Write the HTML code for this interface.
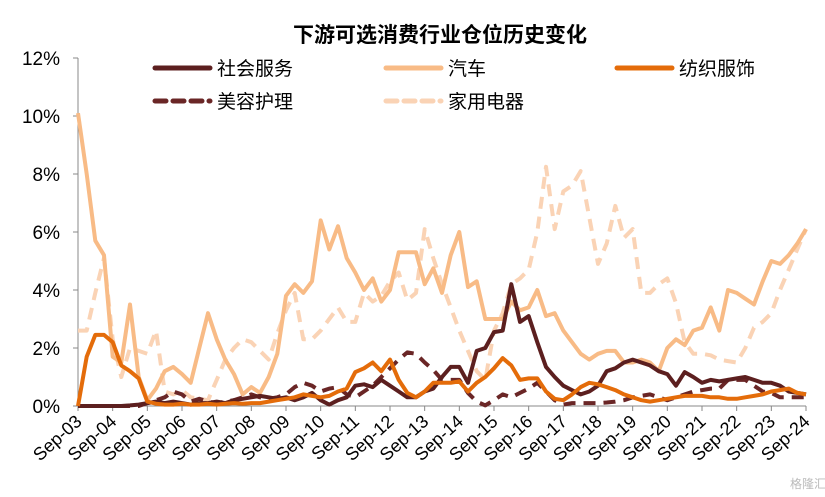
<!DOCTYPE html>
<html><head><meta charset="utf-8"><style>
body{margin:0;background:#fff;}
svg{display:block;font-family:"Liberation Sans","Noto Sans CJK SC",sans-serif;}
</style></head><body>
<svg width="825" height="497" viewBox="0 0 825 497">
<text x="440" y="42" text-anchor="middle" font-size="21" font-weight="bold" fill="#000">下游可选消费行业仓位历史变化</text>
<g id="legend"></g>
<g id="axes"></g>
<g id="series"></g>
<text x="790" y="488" font-size="12" fill="#bbb">格隆汇</text>
</svg>
<script>
const yTicks=[0,2,4,6,8,10,12];
const xLabels=["Sep-03","Sep-04","Sep-05","Sep-06","Sep-07","Sep-08","Sep-09","Sep-10","Sep-11","Sep-12","Sep-13","Sep-14","Sep-15","Sep-16","Sep-17","Sep-18","Sep-19","Sep-20","Sep-21","Sep-22","Sep-23","Sep-24"];
const auto=[10.1,8.0,5.7,5.2,1.7,1.5,3.5,1.0,0.2,0.6,1.2,1.35,1.1,0.8,2.0,3.2,2.3,1.6,1.1,0.4,0.65,0.45,1.0,1.8,3.8,4.2,3.9,4.3,6.4,5.4,6.2,5.1,4.6,4.0,4.4,3.6,4.0,5.3,5.3,5.3,4.2,4.75,3.9,5.2,6.0,4.1,4.3,3.0,3.0,3.0,3.6,3.3,3.4,4.0,3.1,3.2,2.6,2.2,1.8,1.6,1.8,1.9,1.9,1.5,1.5,1.6,1.5,1.2,2.0,2.3,2.1,2.6,2.7,3.4,2.6,4.0,3.9,3.7,3.5,4.3,5.0,4.9,5.2,5.6,6.1];
const home=[2.6,2.6,3.9,5.1,2.3,1.0,2.0,1.9,1.8,2.6,0.5,0.4,0.55,0.3,0.25,0.2,0.9,1.6,2.0,2.3,2.2,1.9,1.6,2.5,3.3,3.9,2.3,2.3,2.6,3.0,3.4,2.9,2.9,3.9,3.6,3.8,4.3,4.6,3.65,3.9,6.1,5.1,4.2,3.4,2.6,1.9,1.2,0.9,2.6,3.2,4.2,4.4,4.7,6.0,8.25,6.1,7.4,7.6,8.1,6.5,4.9,5.6,6.9,5.8,6.1,3.9,3.9,4.2,4.4,3.55,2.2,1.8,1.8,1.75,1.6,1.55,1.5,2.0,2.7,2.9,3.2,4.0,4.7,5.4,6.1];
const social=[0,0,0,0,0,0,0.02,0.05,0.1,0.15,0.1,0.15,0.1,0.05,0.1,0.1,0.15,0.1,0.2,0.25,0.3,0.35,0.3,0.25,0.3,0.2,0.3,0.45,0.2,0.05,0.2,0.3,0.7,0.75,0.65,0.9,0.7,0.5,0.3,0.3,0.5,0.6,1.0,1.35,1.35,0.8,1.9,2.0,2.55,2.6,4.2,2.9,3.1,2.2,1.35,1.0,0.7,0.55,0.4,0.5,0.7,1.2,1.3,1.5,1.6,1.5,1.4,1.2,1.1,0.7,1.17,1.0,0.8,0.9,0.85,0.9,0.95,1.0,0.9,0.8,0.8,0.7,0.5,0.45,0.4];
const textile=[0,1.7,2.45,2.45,2.2,1.4,1.2,0.95,0.15,0.08,0.05,0.05,0.08,0.05,0.05,0.08,0.05,0.08,0.1,0.08,0.1,0.1,0.15,0.2,0.25,0.3,0.4,0.35,0.3,0.35,0.5,0.6,1.17,1.3,1.5,1.2,1.6,0.9,0.45,0.3,0.5,0.8,0.8,0.8,0.85,0.5,0.8,1.0,1.3,1.65,1.4,0.9,0.95,0.95,0.5,0.25,0.2,0.4,0.65,0.8,0.75,0.65,0.55,0.4,0.3,0.2,0.15,0.2,0.25,0.3,0.35,0.35,0.35,0.3,0.3,0.25,0.25,0.3,0.35,0.4,0.5,0.55,0.6,0.45,0.4];
const beauty=[0,0,0,0,0,0,0,0,0.1,0.2,0.3,0.5,0.4,0.15,0.25,0.15,0.1,0.15,0.2,0.3,0.4,0.3,0.25,0.3,0.4,0.65,0.8,0.7,0.5,0.6,0.65,0.4,0.3,0.5,0.7,1.0,1.3,1.6,1.85,1.8,1.5,1.24,0.9,0.9,0.9,0.45,0.15,0.02,0.2,0.4,0.3,0.45,0.6,0.8,0.5,0.2,0.05,0.1,0.1,0.1,0.1,0.12,0.15,0.2,0.3,0.35,0.4,0.3,0.2,0.3,0.4,0.5,0.55,0.6,0.6,0.9,0.9,0.9,0.7,0.5,0.45,0.3,0.3,0.3,0.3];

const NS="http://www.w3.org/2000/svg";
const X0=78,X1=806,Y0=406,Y1=58,N=auto.length;
function xs(i){return X0+(X1-X0)*i/(N-1);}
function ys(v){return Y0-(Y0-Y1)*v/12;}
function mk(tag,attrs,parent){const e=document.createElementNS(NS,tag);for(const k in attrs)e.setAttribute(k,attrs[k]);parent.appendChild(e);return e;}
const axes=document.getElementById('axes');
let l=mk('line',{x1:X0,y1:Y1,x2:X0,y2:Y0,stroke:'#888','stroke-width':1},axes);


l=mk('line',{x1:X0,y1:Y0,x2:X1,y2:Y0,stroke:'#888','stroke-width':1},axes);


yTicks.forEach(v=>{
  const t=mk('line',{x1:X0-5,y1:ys(v),x2:X0,y2:ys(v),stroke:'#888'},axes);
  
  
  const tx=mk('text',{x:X0-18,y:ys(v)+7,'text-anchor':'end','font-size':19,fill:'#000'},axes);
  tx.textContent=v+'%';
  
  
});
xLabels.forEach((s,i)=>{
  const x=X0+(X1-X0)*i/(xLabels.length-1);
  const t=mk('line',{x1:x,y1:Y0,x2:x,y2:Y0+5,stroke:'#888'},axes);
  
  
  const tx=mk('text',{x:x+5,y:Y0+17,'text-anchor':'end','font-size':18,fill:'#000',transform:`rotate(-42 ${x+5} ${Y0+17})`},axes);
  tx.textContent=s;
  
  
});
const seriesDefs=[
 {d:home,c:'#FAD3B5',dash:'12 8',name:'home-appliances-line'},
 {d:auto,c:'#F8BB86',dash:null,name:'auto-line'},
 {d:beauty,c:'#6A2626',dash:'12 8',name:'beauty-care-line'},
 {d:social,c:'#5C1F1F',dash:null,name:'social-services-line'},
 {d:textile,c:'#E46C0A',dash:null,name:'textile-apparel-line'}
];
const sg=document.getElementById('series');
seriesDefs.forEach(s=>{
  const pts=s.d.map((v,i)=>xs(i).toFixed(1)+','+ys(v).toFixed(1)).join(' ');
  const p=mk('polyline',{points:pts,fill:'none',stroke:s.c,'stroke-width':4,'stroke-linejoin':'round'},sg);
  if(s.dash)p.setAttribute('stroke-dasharray',s.dash);
  
  
});
const legendItems=[
 {t:'社会服务',c:'#5C1F1F',dash:null,x:155,y:68},
 {t:'汽车',c:'#F8BB86',dash:null,x:386,y:68},
 {t:'纺织服饰',c:'#E46C0A',dash:null,x:617,y:68},
 {t:'美容护理',c:'#6A2626',dash:'11 7',x:155,y:101},
 {t:'家用电器',c:'#FAD3B5',dash:'11 7',x:386,y:101}
];
const lg=document.getElementById('legend');
legendItems.forEach(it=>{
  const g=mk('g',{},lg);
  
  
  const ln=mk('line',{x1:it.x,y1:it.y,x2:it.x+55,y2:it.y,stroke:it.c,'stroke-width':5,'stroke-linecap':'round'},g);
  if(it.dash)ln.setAttribute('stroke-dasharray',it.dash);
  
  
  const tx=mk('text',{x:it.x+62,y:it.y+7,'font-size':19,fill:'#000'},g);
  tx.textContent=it.t;
  
  
});
</script>
</body></html>
